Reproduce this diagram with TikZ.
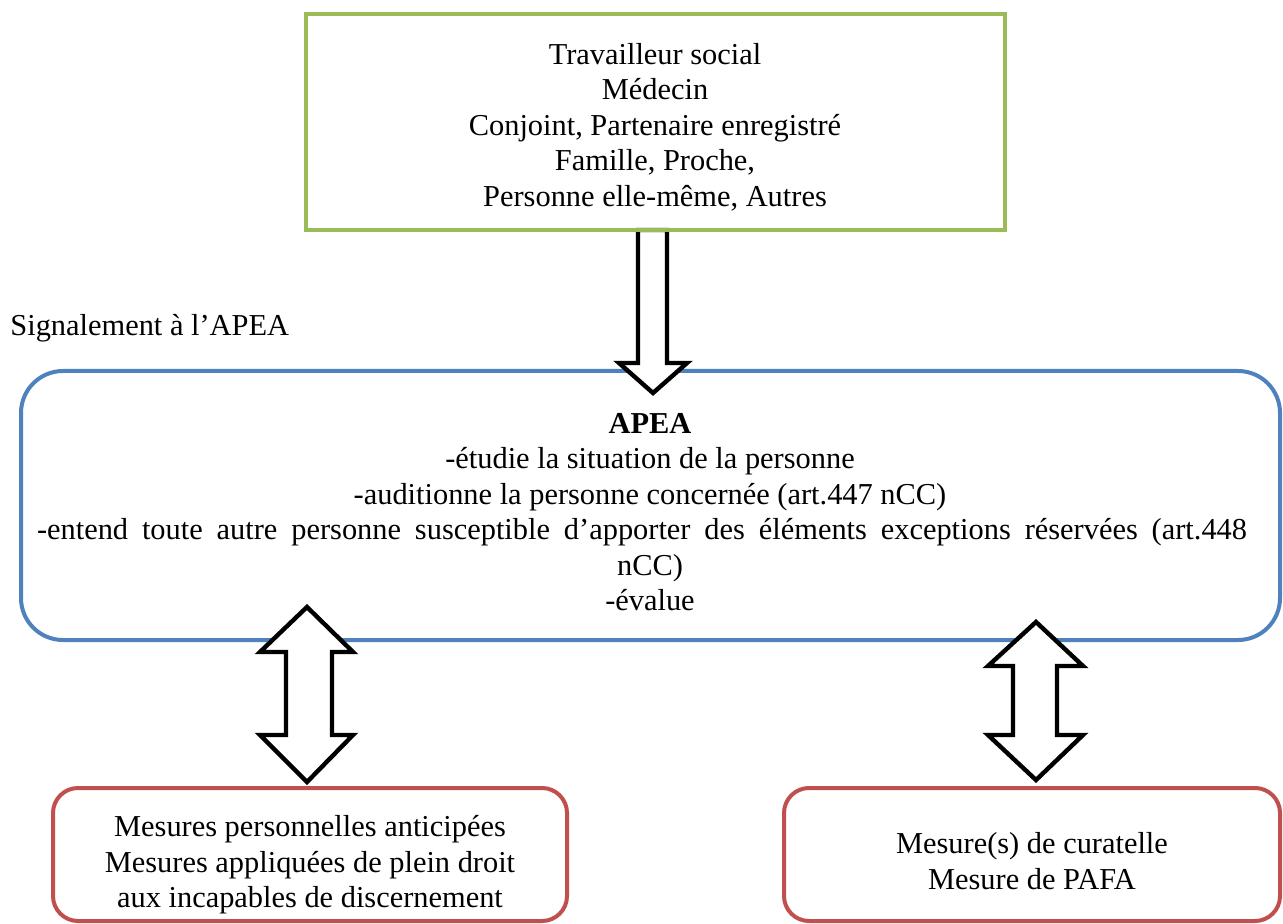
\documentclass[tikz,border=0pt]{standalone}
\usepackage{fontspec}
\setmainfont{Liberation Serif}
\definecolor{ogreen}{HTML}{9BBB59}
\definecolor{oblue}{HTML}{4F81BD}
\definecolor{ored}{HTML}{C0504D}
\begin{document}
\begin{tikzpicture}[x=0.5pt,y=-0.5pt,
  txt/.style={align=center,font=\fontsize{15.2}{17.75}\selectfont,inner sep=0pt},
  blockarrow/.style={draw=black,line width=2.2pt,fill=white,line join=miter},
  greenbox/.style={draw=ogreen,line width=2pt},
  bluebox/.style={draw=oblue,line width=2pt,rounded corners=21pt},
  redbox/.style={draw=ored,line width=2pt,rounded corners=12.5pt}]
\useasboundingbox (0,0) rectangle (1283,924);
% boxes
\draw[bluebox] (21,371) rectangle (1280,640);
\draw[redbox] (53,788) rectangle (567,921);
\draw[redbox] (784,788) rectangle (1280,921);
% down arrow
\coordinate (dtip) at (653,393);
\draw[blockarrow] (638,230) -- (638,363) -- (619,363) -- (dtip) -- (687,363) -- (667,363) -- (667,230) -- cycle;
\draw[greenbox] (306,14) rectangle (1005,230);
% double arrows
\coordinate (ltop) at (307,607);
\coordinate (lbot) at (307,782);
\draw[blockarrow] (ltop) -- (353,652) -- (332,652) -- (332,735) -- (353,735) -- (lbot) -- (260,735) -- (286,735) -- (286,652) -- (260,652) -- cycle;
\coordinate (rtop) at (1036,622);
\coordinate (rbot) at (1036,780);
\draw[blockarrow] (rtop) -- (1083,666) -- (1057,666) -- (1057,735) -- (1083,735) -- (rbot) -- (988,735) -- (1013,735) -- (1013,666) -- (988,666) -- cycle;
% texts
\node[txt] (src) at (655,127) {Travailleur social\\Médecin\\Conjoint, Partenaire enregistré\\Famille, Proche,\\Personne elle-même, Autres};
\node[txt,anchor=west] (sig) at (10,328) {Signalement à l’APEA};
\node[txt] (apea) at (650,512) {\textbf{APEA}\\-étudie la situation de la personne\\-auditionne la personne concernée (art.447 nCC)\\\makebox[613pt][l]{\makebox[605pt][s]{-entend toute autre personne susceptible d’apporter des éléments exceptions réservées (art.448}}\\nCC)\\-évalue};
\node[txt] (left) at (310,865) {Mesures personnelles anticipées\\Mesures appliquées de plein droit\\aux incapables de discernement};
\node[txt] (right) at (1032,861) {Mesure(s) de curatelle\\Mesure de PAFA};
\end{tikzpicture}
\end{document}
